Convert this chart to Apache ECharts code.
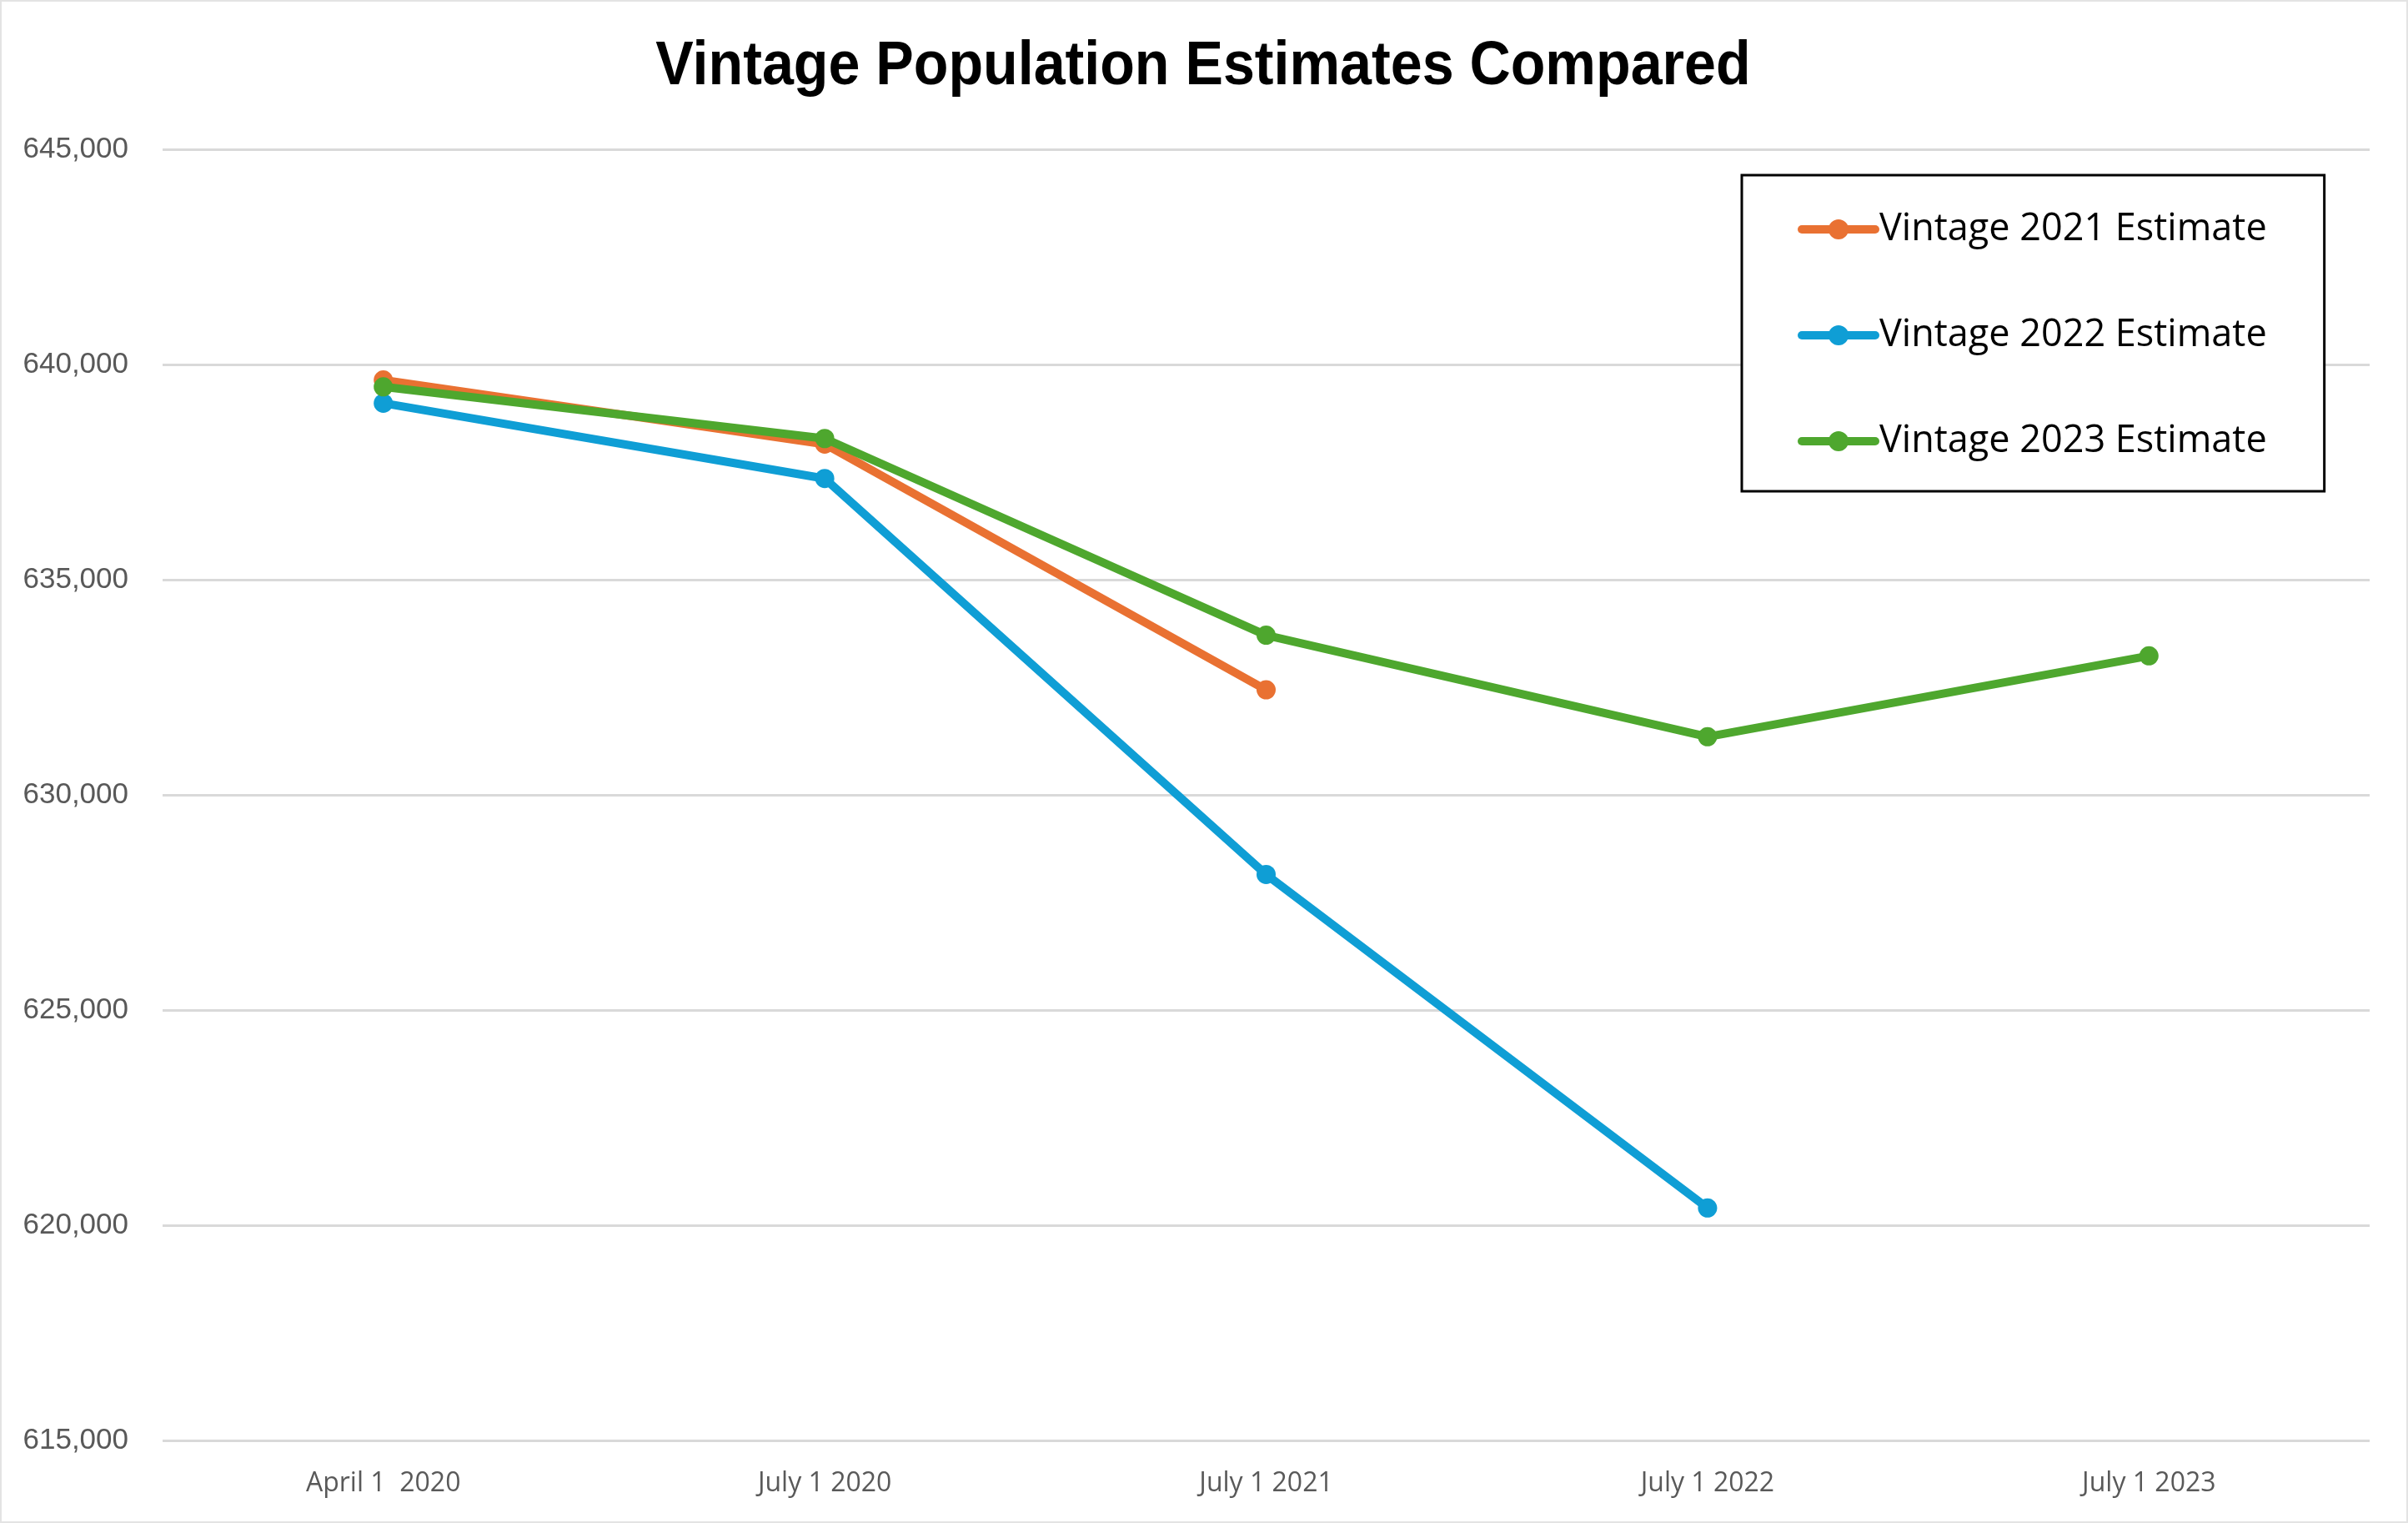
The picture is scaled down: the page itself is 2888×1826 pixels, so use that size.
<!DOCTYPE html>
<html>
<head>
<meta charset="utf-8">
<title>Vintage Population Estimates Compared</title>
<script src="https://cdn.jsdelivr.net/npm/echarts@6/dist/echarts.min.js"></script>
<style>
  html, body { margin: 0; padding: 0; background: #ffffff; }
  #chart { width: 2888px; height: 1826px; }
</style>
</head>
<body>
<div id="chart"></div>
<script>
// Estimate dates along the x axis
const categories = ['April 1  2020', 'July 1 2020', 'July 1 2021', 'July 1 2022', 'July 1 2023'];

// Population estimates per vintage (null where a vintage has no estimate yet)
const vintage2021 = [639640, 638150, 632440, null, null];
const vintage2022 = [639100, 637350, 628150, 620400, null];
const vintage2023 = [639480, 638280, 633710, 631350, 633230];

const seriesNames = ['Vintage 2021 Estimate', 'Vintage 2022 Estimate', 'Vintage 2023 Estimate'];
const seriesColors = ['#E97132', '#0F9ED5', '#4EA72E'];
const seriesValues = [vintage2021, vintage2022, vintage2023];

const chartTitle = 'Vintage Population Estimates Compared';

const chart = echarts.init(document.getElementById('chart'), null, { renderer: 'canvas' });

const lineSeries = seriesValues.map((values, i) => ({
  name: seriesNames[i],
  type: 'line',
  data: values,
  connectNulls: false,
  symbol: 'circle',
  symbolSize: 23,
  showAllSymbol: true,
  lineStyle: { width: 10, color: seriesColors[i], cap: 'round', join: 'round' },
  itemStyle: { color: seriesColors[i] },
  emphasis: { disabled: true },
  z: 2 + i
}));

chart.setOption({
  animation: false,
  backgroundColor: '#ffffff',
  color: seriesColors,
  legend: {
    orient: 'vertical',
    left: 2089,
    top: 210,
    padding: [40, 69, 35, 67],
    itemGap: 77,
    itemWidth: 88,
    itemHeight: 30,
    borderColor: '#000000',
    borderWidth: 3,
    backgroundColor: '#ffffff',
    selectedMode: false,
    lineStyle: { width: 10, cap: 'round' },
    textStyle: {
      fontFamily: "'Open Sans', sans-serif",
      fontSize: 45,
      lineHeight: 50,
      color: '#000000'
    },
    data: seriesNames
  },
  grid: {
    left: 195,
    right: 46,
    top: 179,
    bottom: 99,
    containLabel: false
  },
  xAxis: {
    type: 'category',
    data: categories,
    boundaryGap: true,
    axisLine: { show: false },
    axisTick: { show: false },
    axisLabel: {
      margin: 36,
      fontFamily: "'Open Sans', sans-serif",
      fontSize: 32,
      color: '#595959'
    },
    splitLine: { show: false }
  },
  yAxis: {
    type: 'value',
    min: 615000,
    max: 645000,
    interval: 5000,
    axisLine: { show: false },
    axisTick: { show: false },
    axisLabel: {
      margin: 41,
      fontFamily: "'Liberation Sans', Arial, sans-serif",
      fontSize: 35,
      color: '#595959',
      formatter: v => v.toLocaleString('en-US')
    },
    splitLine: { show: true, lineStyle: { color: '#d9d9d9', width: 3 } }
  },
  graphic: [
    {
      // light outer frame of the chart area
      type: 'rect',
      silent: true,
      z: -10,
      shape: { x: 1, y: 1, width: 2886, height: 1824 },
      style: { fill: 'none', stroke: '#e3e3e3', lineWidth: 2 }
    },
    {
      // narrow bold heading, condensed horizontally
      type: 'text',
      silent: true,
      x: 1443,
      y: 80,
      scaleX: 0.909,
      style: {
        text: chartTitle,
        fill: '#000000',
        font: "bold 75px 'Liberation Sans', Arial, sans-serif",
        align: 'center',
        verticalAlign: 'middle'
      }
    }
  ],
  series: lineSeries
});
</script>
</body>
</html>
